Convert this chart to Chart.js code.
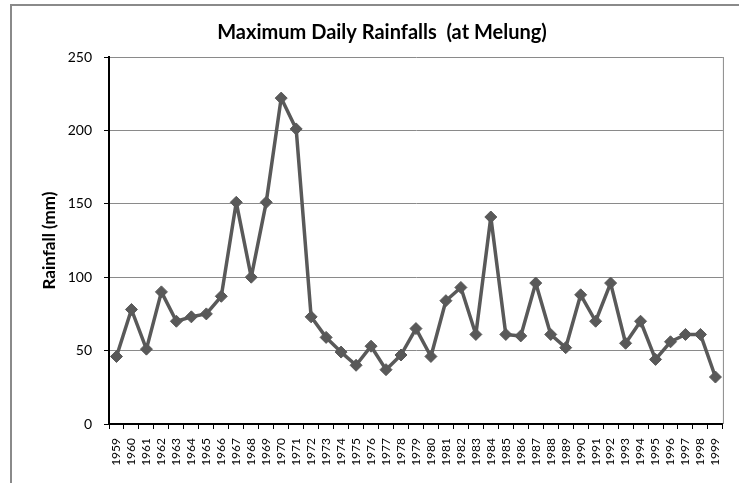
<!DOCTYPE html>
<html>
<head>
<meta charset="utf-8">
<script src="https://cdn.jsdelivr.net/npm/chart.js@4"></script>
<style>
html,body{margin:0;padding:0;background:#fff;}
#wrap{width:739px;height:483px;position:relative;}
</style>
</head>
<body>
<div id="wrap"><canvas id="c" width="739" height="483"></canvas></div>
<script>
const years = ["1959","1960","1961","1962","1963","1964","1965","1966","1967","1968","1969","1970","1971","1972","1973","1974","1975","1976","1977","1978","1979","1980","1981","1982","1983","1984","1985","1986","1987","1988","1989","1990","1991","1992","1993","1994","1995","1996","1997","1998","1999"];
const rainfall = [46,78,51,90,70,73,75,87,151,100,151,222,201,73,59,49,40,53,37,47,65,46,84,93,61,141,61,60,96,61,52,88,70,96,55,70,44,56,61,61,32];
const yTicks = [0,50,100,150,200,250];
const titleText = "Maximum Daily Rainfalls  (at Melung)";
const yTitle = "Rainfall (mm)";

const FONT = "Lato, 'Open Sans', sans-serif";

const framePlugin = {
  id: 'frame',
  beforeDraw(chart) {
    const ctx = chart.ctx;
    ctx.save();
    ctx.fillStyle = '#fff';
    ctx.fillRect(0, 0, chart.width, chart.height);
    ctx.strokeStyle = '#8a8a8a';
    ctx.lineWidth = 2;
    ctx.beginPath();
    ctx.moveTo(11, chart.height + 2);
    ctx.lineTo(11, 5);
    ctx.lineTo(chart.width + 2, 5);
    ctx.stroke();
    ctx.restore();
  },
  beforeDatasetsDraw(chart) {
    const a = chart.chartArea, ctx = chart.ctx;
    ctx.save();
    ctx.strokeStyle = '#8a8a8a';
    ctx.lineWidth = 1;
    ctx.beginPath();
    ctx.moveTo(a.right + 0.5, a.top);
    ctx.lineTo(a.right + 0.5, a.bottom);
    ctx.stroke();
    ctx.restore();
  }
};

new Chart(document.getElementById('c'), {
  type: 'line',
  data: {
    labels: years,
    datasets: [{
      data: rainfall,
      borderColor: '#595959',
      backgroundColor: '#595959',
      borderWidth: 3.5,
      borderJoinStyle: 'round',
      borderCapStyle: 'round',
      pointStyle: 'rectRot',
      pointRadius: 6,
      pointBorderWidth: 1,
      tension: 0,
      fill: false
    }]
  },
  options: {
    responsive: false,
    animation: false,
    devicePixelRatio: 1,
    layout: { padding: { left: 39, right: 14, top: 0, bottom: 0 } },
    plugins: {
      legend: { display: false },
      tooltip: { enabled: false },
      title: {
        display: true,
        text: titleText,
        color: '#000',
        font: { family: FONT, size: 20, weight: 'bold', lineHeight: 1.2 },
        padding: { top: 21, bottom: 12 }
      }
    },
    scales: {
      x: {
        type: 'category',
        offset: true,
        grid: {
          display: true, offset: true, drawOnChartArea: false,
          drawTicks: true, tickLength: 5, tickColor: '#000', tickWidth: 1
        },
        border: { display: true, color: '#000', width: 2 },
        ticks: {
          autoSkip: false, minRotation: 90, maxRotation: 90,
          color: '#000', padding: 9,
          font: { family: FONT, size: 12 }
        },
        afterFit(s) { s.height = 59; }
      },
      y: {
        min: 0, max: 250,
        afterBuildTicks(s) { s.ticks = yTicks.map(v => ({ value: v })); },
        grid: {
          color: '#8a8a8a', lineWidth: 1,
          drawTicks: true, tickLength: 5, tickColor: '#000', tickWidth: 1
        },
        border: { display: true, color: '#000', width: 2 },
        ticks: {
          color: '#000', padding: 12,
          font: { family: FONT, size: 14 }
        },
        title: {
          display: true, text: yTitle, color: '#000',
          font: { family: FONT, size: 17, weight: 'bold' },
          padding: { top: 0, bottom: 0 }
        },
        afterFit(s) { s.width = 70; }
      }
    }
  },
  plugins: [framePlugin]
});
</script>
</body>
</html>
